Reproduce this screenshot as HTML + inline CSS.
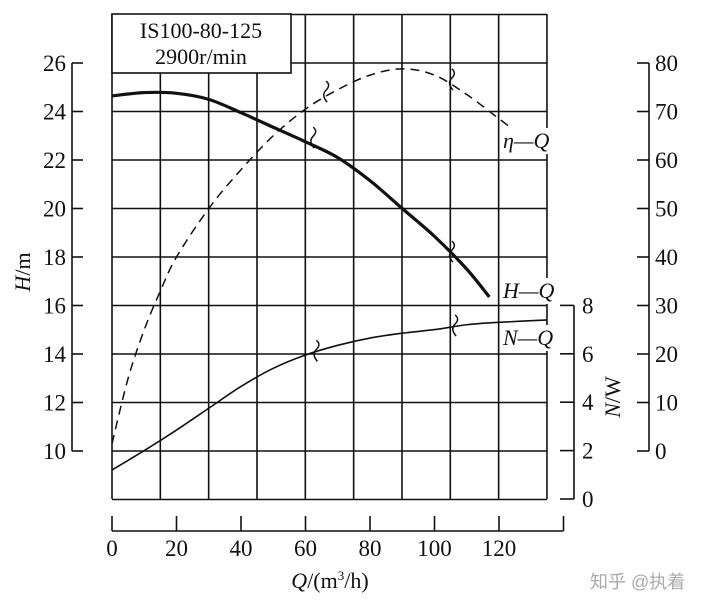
<!DOCTYPE html>
<html><head><meta charset="utf-8"><style>
html,body{margin:0;padding:0;background:#fff;}
svg{display:block;font-family:"Liberation Serif",serif;}
</style></head><body>
<svg id="chart" width="720" height="610" viewBox="0 0 720 610" xmlns="http://www.w3.org/2000/svg">
<g id="grid"></g>
<g id="curves"></g>
<g id="axes"></g>
<g>
<rect x="112" y="14" width="179" height="59" fill="#fff" stroke="#111" stroke-width="1.6"/>
<text x="201" y="38" text-anchor="middle" font-size="22" fill="#111">IS100-80-125</text>
<text x="201" y="64" text-anchor="middle" font-size="22" fill="#111">2900r/min</text>
</g>
<text transform="translate(30,272) rotate(-90)" text-anchor="middle" font-size="22" fill="#111"><tspan font-style="italic">H</tspan>/m</text>
<text transform="translate(620,397) rotate(-90)" text-anchor="middle" font-size="22" fill="#111"><tspan font-style="italic">N</tspan>/W</text>
<text x="330" y="588" text-anchor="middle" font-size="22" fill="#111"><tspan font-style="italic">Q</tspan>/(m<tspan font-size="13" dy="-8">3</tspan><tspan dy="8">/h)</tspan></text>
<text x="590" y="588" font-size="18" fill="#aaa" font-family="'Liberation Sans','Noto Sans CJK SC',sans-serif">知乎 @执着</text>
</svg>
<script>
const qH = [0,10,20,30,40,50,60,70,80,90,100,110,117];
const hVals = [24.64,24.78,24.75,24.5,23.95,23.35,22.75,22.1,21.15,20.0,18.85,17.5,16.35];
const qEta = [0,5,10,15,20,30,40,50,60,70,80,90,100,110,120,125];
const etaVals = [1.5,15,25,33,40,50,58,65,70.5,74.5,77.5,78.8,77.5,73.5,68.5,66];
const qN = [0,10,20,30,40,50,60,70,80,90,100,110,120,135];
const nVals = [1.2,2.0,2.85,3.75,4.65,5.4,5.95,6.35,6.65,6.85,7.0,7.2,7.3,7.4];
const xTicks = [0,20,40,60,80,100,120];
const hTicks = [10,12,14,16,18,20,22,24,26];
const etaTicks = [0,10,20,30,40,50,60,70,80];
const nTicks = [0,2,4,6,8];

const NS="http://www.w3.org/2000/svg";
const X=q=>112+q*3.225;
const YH=h=>451-(h-10)*24.25;
const YE=e=>451-e*4.85;
const YN=n=>499-n*24.2;
function mk(tag,attrs,parent){const e=document.createElementNS(NS,tag);for(const k in attrs)e.setAttribute(k,attrs[k]);parent.appendChild(e);return e;}
const grid=document.getElementById('grid'),curves=document.getElementById('curves'),axes=document.getElementById('axes');
const ink="#111";
for(let k=0;k<=9;k++){const x=112+k*48.33;
 const l=mk('line',{x1:x,y1:14,x2:x,y2:499,stroke:ink,'stroke-width':1.6},grid);
 
 }
for(let k=0;k<=10;k++){const y=14.5+k*48.5;
 const l=mk('line',{x1:112,y1:y,x2:547,y2:y,stroke:ink,'stroke-width':1.6},grid);
 
 }
function smooth(qs,vs,yf){const p=qs.map((q,i)=>[X(q),yf(vs[i])]);let d='M'+p[0][0]+','+p[0][1];
 for(let i=0;i<p.length-1;i++){const p0=p[i-1]||p[i],p1=p[i],p2=p[i+1],p3=p[i+2]||p2;
 d+=` C${p1[0]+(p2[0]-p0[0])/6},${p1[1]+(p2[1]-p0[1])/6} ${p2[0]-(p3[0]-p1[0])/6},${p2[1]-(p3[1]-p1[1])/6} ${p2[0]},${p2[1]}`;}return d;}
const eta=mk('path',{d:smooth(qEta,etaVals,YE),fill:'none',stroke:ink,'stroke-width':1.5,'stroke-dasharray':'9,6'},curves);


const hq=mk('path',{d:smooth(qH,hVals,YH),fill:'none',stroke:ink,'stroke-width':3.2},curves);


const nq=mk('path',{d:smooth(qN,nVals,YN),fill:'none',stroke:ink,'stroke-width':1.6},curves);


[[67,YE(74)],[106,YE(76.5)],[63,YH(22.9)],[106,YH(18.2)],[64,YN(6.1)],[107,YN(7.15)]].forEach(([q,y])=>{const x=X(q);
 const b=mk('path',{d:`M${x-2},${y-11} q5,4 0,9 q-5,5 1,12`,fill:'none',stroke:ink,'stroke-width':1.5},curves);
 
 });
[['η','eta-q-label',148],['H','h-q-label',298],['N','n-q-label',345]].forEach(([s,n,y])=>{
 mk('rect',{x:500,y:y-20,width:58,height:26,fill:'#fff'},curves);
 const t=mk('text',{x:503,y:y,'font-size':22,'font-style':'italic',fill:ink},curves);
 t.textContent=s+'—Q';
 
 });
mk('line',{x1:72,y1:YH(26),x2:72,y2:YH(10),stroke:ink,'stroke-width':1.6},axes);
hTicks.forEach(v=>{mk('line',{x1:72,y1:YH(v),x2:83,y2:YH(v),stroke:ink,'stroke-width':1.6},axes);
 const t=mk('text',{x:66,y:YH(v)+8,'text-anchor':'end','font-size':23,fill:ink},axes);t.textContent=v;
 
 });
mk('line',{x1:574,y1:YN(8),x2:574,y2:YN(0),stroke:ink,'stroke-width':1.6},axes);
nTicks.forEach(v=>{mk('line',{x1:560,y1:YN(v),x2:574,y2:YN(v),stroke:ink,'stroke-width':1.6},axes);
 const t=mk('text',{x:582,y:YN(v)+8,'font-size':23,fill:ink},axes);t.textContent=v;
 
 });
mk('line',{x1:649,y1:YE(80),x2:649,y2:YE(0),stroke:ink,'stroke-width':1.6},axes);
etaTicks.forEach(v=>{mk('line',{x1:637,y1:YE(v),x2:649,y2:YE(v),stroke:ink,'stroke-width':1.6},axes);
 const t=mk('text',{x:655,y:YE(v)+8,'font-size':23,fill:ink},axes);t.textContent=v;
 
 });
mk('line',{x1:X(0),y1:531,x2:X(140),y2:531,stroke:ink,'stroke-width':1.6},axes);
mk('line',{x1:X(140),y1:516,x2:X(140),y2:531,stroke:ink,'stroke-width':1.6},axes);
xTicks.forEach(v=>{mk('line',{x1:X(v),y1:516,x2:X(v),y2:531,stroke:ink,'stroke-width':1.6},axes);
 const t=mk('text',{x:X(v),y:556,'text-anchor':'middle','font-size':23,fill:ink},axes);t.textContent=v;
 
 });
</script>
</body></html>
